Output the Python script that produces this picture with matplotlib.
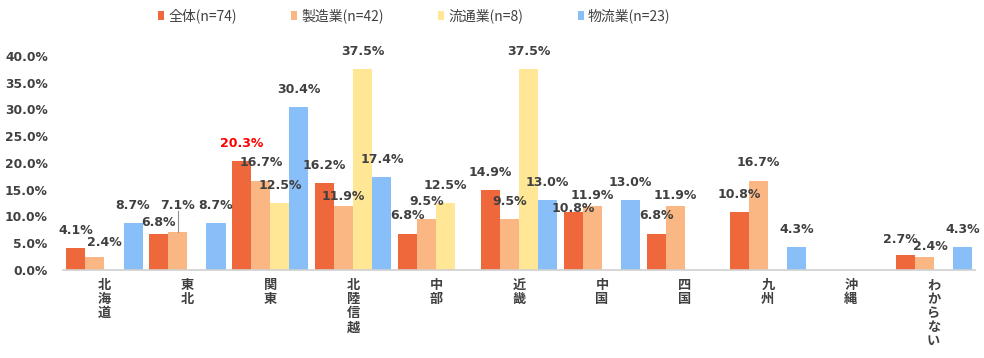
import numpy as np
import matplotlib
matplotlib.use('Agg')
import matplotlib.pyplot as plt

plt.rcParams['font.family'] = ['Noto Sans CJK JP', 'DejaVu Sans']

# カテゴリ（地域）
regions = ['北海道', '東北', '関東', '北陸信越', '中部', '近畿',
           '中国', '四国', '九州', '沖縄', 'わからない']

# 系列
series_names = ['全体(n=74)', '製造業(n=42)', '流通業(n=8)', '物流業(n=23)']
zentai = [4.1, 6.8, 20.3, 16.2, 6.8, 14.9, 10.8, 6.8, 10.8, 0.0, 2.7]
seizo = [2.4, 7.1, 16.7, 11.9, 9.5, 9.5, 11.9, 11.9, 16.7, 0.0, 2.4]
ryutsu = [0.0, 0.0, 12.5, 37.5, 12.5, 37.5, 0.0, 0.0, 0.0, 0.0, 0.0]
butsuryu = [8.7, 8.7, 30.4, 17.4, 0.0, 13.0, 13.0, 0.0, 4.3, 0.0, 4.3]

yticks = [0, 5, 10, 15, 20, 25, 30, 35, 40]

COLORS = ['#EF683B', '#FAB783', '#FFE795', '#89BFF9']
TEXT_COLOR = '#404040'

# ラベル位置の手動調整 (系列番号, 地域番号): (dx, dy)  ※Excel側で動かしてある分
LABEL_DEFAULT_DY = 3.3
label_tweaks = {
    (1, 0): (0.11, 2.8),
    (0, 1): (0.0, 2.1),
    (1, 1): (0.0, 4.9),
    (1, 3): (0.0, 1.9),
    (0, 6): (0.0, 0.6),
    (1, 6): (0.0, 2.0),
    (1, 7): (0.0, 2.0),
    (0, 10): (-0.06, 3.0),
    (1, 10): (0.08, 1.9),
}

fig = plt.figure(figsize=(9.84, 3.58), dpi=100)
ax = fig.add_axes([0.064, 0.246, 0.927, 0.598])

x = np.arange(len(regions))
w = 0.23
all_series = [zentai, seizo, ryutsu, butsuryu]

for k, (vals, name, col) in enumerate(zip(all_series, series_names, COLORS)):
    pos = x + (k - 1.5) * w
    ax.bar(pos, vals, width=w, color=col, label=name)
    for i, (px, v) in enumerate(zip(pos, vals)):
        if v <= 0:
            continue
        dx, dy = label_tweaks.get((k, i), (0.0, LABEL_DEFAULT_DY))
        # 関東の全体だけ赤で強調
        c = 'red' if (k == 0 and i == 2) else TEXT_COLOR
        ax.text(px + dx, v + dy, f'{v:.1f}%', ha='center', va='center',
                fontsize=9, color=c, fontweight='bold', family='DejaVu Sans',
                clip_on=False)

# 東北・製造業のラベルは引き出し線付き
ax.plot([x[1] - 0.5 * w] * 2, [seizo[1], seizo[1] + 3.9],
        color='#909090', lw=0.8)

ax.set_xlim(-0.5, len(regions) - 0.5)
ax.set_ylim(0, 40)
ax.set_yticks(yticks)
ax.set_yticklabels([f'{t:.1f}%' for t in yticks], fontsize=8.8,
                   color=TEXT_COLOR, fontweight='bold', family='DejaVu Sans')
ax.set_xticks(x)
ax.set_xticklabels(['\n'.join(r) for r in regions], fontsize=9.5,
                   color=TEXT_COLOR, fontweight='bold', va='top',
                   linespacing=1.0)

for s in ['top', 'right', 'left']:
    ax.spines[s].set_visible(False)
ax.spines['bottom'].set_color('#D0D0D0')
ax.spines['bottom'].set_linewidth(1.2)
ax.tick_params(axis='both', length=0)
ax.tick_params(axis='x', pad=6)
ax.tick_params(axis='y', pad=11)

leg = fig.legend(loc='center left', bbox_to_anchor=(158 / 984, 1 - 16 / 358),
                 ncol=4, frameon=False, fontsize=10, handlelength=0.45,
                 handleheight=0.7, handletextpad=0.3, columnspacing=3.9,
                 borderpad=0, borderaxespad=0)
for t in leg.get_texts():
    t.set_color(TEXT_COLOR)

fig.savefig('out.png', dpi=100, facecolor='white')
